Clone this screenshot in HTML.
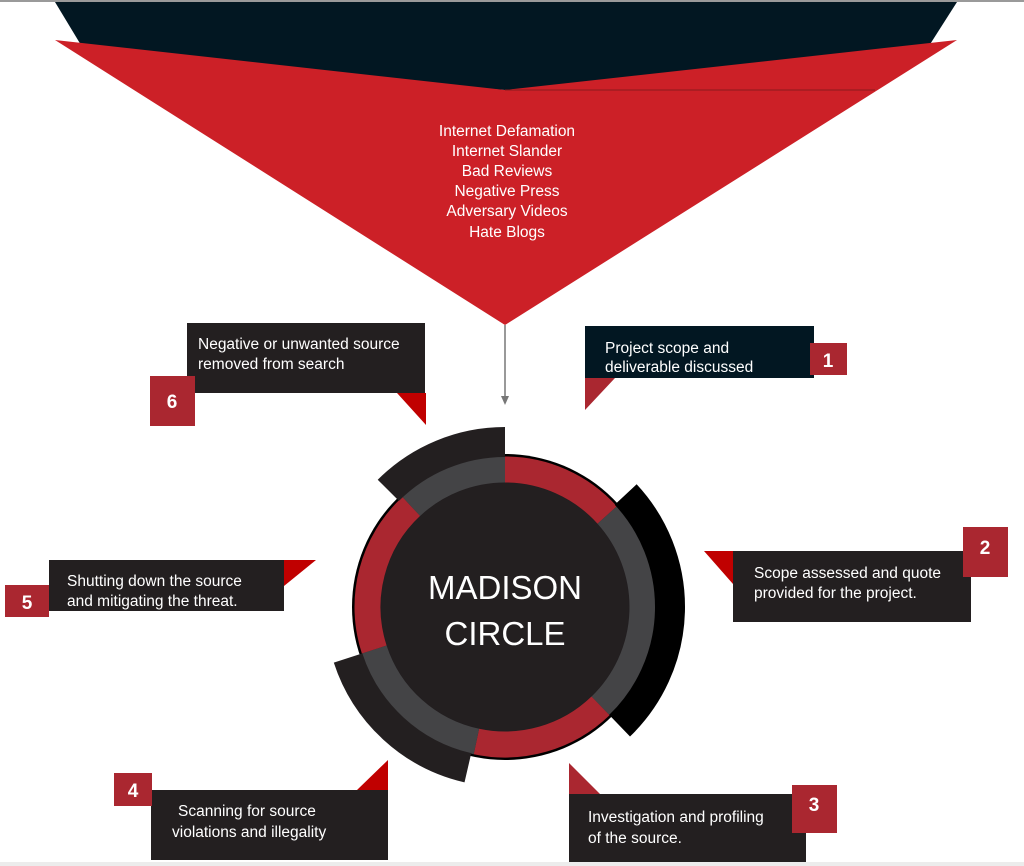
<!DOCTYPE html>
<html><head><meta charset="utf-8"><style>
html,body{margin:0;padding:0;background:#fff;}
svg{display:block;}
text{font-family:"Liberation Sans Narrow","Liberation Sans",sans-serif;fill:#fff;}
.t{font-size:15.5px;}
.n{font-family:"Liberation Sans",sans-serif;font-weight:bold;font-size:19px;}
</style></head><body>
<svg width="1024" height="866" viewBox="0 0 1024 866" xmlns="http://www.w3.org/2000/svg">
<rect x="0" y="0" width="1024" height="2" fill="#9a9a9a"/>
<rect x="0" y="862" width="1024" height="4" fill="#ececec"/>
<!-- funnel -->
<polygon points="55,2 957,2 920,60 505,90 90,60" fill="#021722"/>
<polygon points="55,40 505,90 957,40 505,325" fill="#cc2027"/>
<line x1="505" y1="90" x2="875" y2="90" stroke="#8a1a1e" stroke-width="1"/>
<g class="t" text-anchor="middle" style="font-size:15.5px">
<text x="507" y="136">Internet Defamation</text>
<text x="507" y="156">Internet Slander</text>
<text x="507" y="176">Bad Reviews</text>
<text x="507" y="196">Negative Press</text>
<text x="507" y="216">Adversary Videos</text>
<text x="507" y="237">Hate Blogs</text>
</g>
<!-- arrow -->
<line x1="505" y1="325" x2="505" y2="398" stroke="#777" stroke-width="1.5"/>
<polygon points="501,396 509,396 505,405" fill="#777"/>
<!-- circle -->
<g transform="translate(505,607)">
<circle r="153" fill="#000"/>
<circle r="150" fill="#231f20"/>
<g fill="none" stroke-width="26">
<circle r="137.5" stroke="#aa2730" pathLength="360" stroke-dasharray="48 312" transform="rotate(270)"/>
<circle r="137.5" stroke="#444446" pathLength="360" stroke-dasharray="88 272" transform="rotate(318)"/>
<circle r="137.5" stroke="#aa2730" pathLength="360" stroke-dasharray="56 304" transform="rotate(46)"/>
<circle r="137.5" stroke="#444446" pathLength="360" stroke-dasharray="60 300" transform="rotate(102)"/>
<circle r="137.5" stroke="#aa2730" pathLength="360" stroke-dasharray="65 295" transform="rotate(162)"/>
<circle r="137.5" stroke="#444446" pathLength="360" stroke-dasharray="43 317" transform="rotate(227)"/>
</g>
<circle r="124" fill="#231f20"/>
<g fill="none" stroke-width="30">
<circle r="165" stroke="#231f20" pathLength="360" stroke-dasharray="45 315" transform="rotate(225)"/>
<circle r="165" stroke="#000" pathLength="360" stroke-dasharray="89 271" transform="rotate(317)"/>
<circle r="165" stroke="#231f20" pathLength="360" stroke-dasharray="59 301" transform="rotate(103)"/>
</g>
<text x="0" y="-8" text-anchor="middle" style="font-family:'Liberation Sans',sans-serif;font-size:33px">MADISON</text>
<text x="0" y="38" text-anchor="middle" style="font-family:'Liberation Sans',sans-serif;font-size:33px">CIRCLE</text>
</g>
<!-- box 6 -->
<rect x="187" y="323" width="238" height="70" fill="#231f20"/>
<polygon points="397,393 426,393 426,425" fill="#c00000"/>
<rect x="150" y="376" width="45" height="50" fill="#aa2730"/>
<text class="n" x="172" y="408" text-anchor="middle">6</text>
<text class="t" x="198" y="349">Negative or unwanted source</text>
<text class="t" x="198" y="369">removed from search</text>
<!-- box 1 -->
<rect x="585" y="326" width="229" height="52" fill="#021722"/>
<polygon points="585,378 615,378 585,410" fill="#aa2730"/>
<rect x="810" y="343" width="37" height="32" fill="#aa2730"/>
<text class="n" x="828" y="367" text-anchor="middle">1</text>
<text class="t" x="605" y="353">Project scope and</text>
<text class="t" x="605" y="372">deliverable discussed</text>
<!-- box 2 -->
<rect x="733" y="551" width="238" height="71" fill="#231f20"/>
<polygon points="704,551 733,551 733,584" fill="#c00000"/>
<rect x="963" y="527" width="45" height="50" fill="#aa2730"/>
<text class="n" x="985" y="554" text-anchor="middle">2</text>
<text class="t" x="754" y="578">Scope assessed and quote</text>
<text class="t" x="754" y="598">provided for the project.</text>
<!-- box 3 -->
<rect x="569" y="794" width="237" height="68" fill="#231f20"/>
<polygon points="569,763 569,794 600,794" fill="#aa2730"/>
<rect x="792" y="785" width="45" height="48" fill="#aa2730"/>
<text class="n" x="814" y="811" text-anchor="middle">3</text>
<text class="t" x="588" y="822">Investigation and profiling</text>
<text class="t" x="588" y="843">of the source.</text>
<!-- box 4 -->
<rect x="151" y="790" width="237" height="70" fill="#231f20"/>
<polygon points="357,790 388,790 388,760" fill="#c00000"/>
<rect x="114" y="773" width="38" height="33" fill="#aa2730"/>
<text class="n" x="133" y="797" text-anchor="middle">4</text>
<text class="t" x="178" y="816">Scanning for source</text>
<text class="t" x="172" y="837">violations and illegality</text>
<!-- box 5 -->
<rect x="49" y="560" width="235" height="51" fill="#231f20"/>
<polygon points="284,560 316,560 284,586" fill="#c00000"/>
<rect x="5" y="585" width="44" height="32" fill="#aa2730"/>
<text class="n" x="27" y="609" text-anchor="middle">5</text>
<text class="t" x="67" y="586">Shutting down the source</text>
<text class="t" x="67" y="606">and mitigating the threat.</text>
</svg>
</body></html>
